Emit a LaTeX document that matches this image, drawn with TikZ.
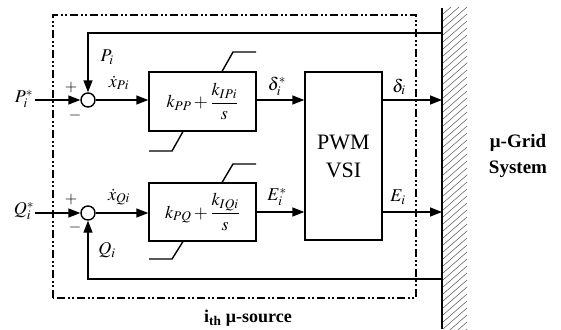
\documentclass[tikz,border=0pt]{standalone}
\usepackage{mathptmx}
\usepackage{fontspec}
\setmainfont{Liberation Serif}
\usetikzlibrary{arrows.meta}
\begin{document}
\begin{tikzpicture}[x=1pt,y=-1pt,
  line width=1.4pt,
  arr/.style={-{Triangle[length=12pt,width=9pt]}},
  blk/.style={draw,rectangle,inner sep=0pt},
  sumc/.style={draw,circle,minimum size=14pt,inner sep=0pt},
  lbl/.style={inner sep=0pt,font=\fontsize{18}{20}\selectfont},
  sgn/.style={inner sep=0pt,font=\fontsize{16}{18}\selectfont},
  bound/.style={line width=2.6pt,dash pattern=on 8pt off 2.8pt on 1.8pt off 2.8pt on 1.8pt off 2.8pt},
  sat/.style={line width=1.4pt}
]
\useasboundingbox (0,0) rectangle (561,329);
\fill[white] (0,0) rectangle (561,329);

% boundary of i-th source
\draw[bound] (53,298) -- (53,15) -- (416,15) -- (416,298) -- cycle;

% wall with hatching
\coordinate (wt) at (442,8);
\coordinate (wb) at (442,329);
\begin{scope}
  \clip (442,8) rectangle (468,329);
  \foreach \k in {0,...,50}{
    \draw[line width=0.5pt,gray!70!black] (443,{14+7*\k}) -- ++(24,-21);
  }
\end{scope}
\draw[line width=1.6pt] (wt) -- (wb);

% summing junctions
\node[sumc] (sp) at (88,100) {};
\node[sumc] (sq) at (88,213) {};

% PI blocks
\node[blk,minimum width=107pt,minimum height=59pt] (bp) at (202.5,101.5)
  {\fontsize{18}{20}\selectfont $\displaystyle k_{PP}+\frac{k_{IPi}}{s}$};
\node[blk,minimum width=107pt,minimum height=58pt] (bq) at (202.5,212)
  {\fontsize{18}{20}\selectfont $\displaystyle k_{PQ}+\frac{k_{IQi}}{s}$};

% saturation limits
\draw[sat] (222,71.5) -- (233,52) -- (256,52);
\draw[sat] (183,131.5) -- (172,151) -- (149,151);
\draw[sat] (222,182.5) -- (233,164) -- (256,164);
\draw[sat] (183,241.5) -- (172,259) -- (149,259);

% PWM VSI
\node[blk,minimum width=77pt,minimum height=168pt,align=center,
  font=\fontsize{22}{28}\selectfont] (pwm) at (343.5,156) {PWM\\VSI};

% inputs
\coordinate (pin) at (35,100);
\coordinate (qin) at (35,213);
\draw[arr] (pin) -- (sp.west);
\draw[arr] (qin) -- (sq.west);
\node[lbl] (plab) at (24,99) {$P_i^{*}$};
\node[lbl] (qlab) at (24,211) {$Q_i^{*}$};

% forward paths
\draw[arr] (sp.east) -- (sp.east -| bp.west);
\draw[arr] (sq.east) -- (sq.east -| bq.west);
\draw[arr] (bp.east |- 0,100) -- (pwm.west |- 0,100);
\draw[arr] (bq.east |- 0,212) -- (pwm.west |- 0,212);
\coordinate (wp) at (442,100);
\coordinate (wq) at (442,212);
\draw[arr] (pwm.east |- wp) -- (wp);
\draw[arr] (pwm.east |- wq) -- (wq);

% feedback
\coordinate (ft) at (442,33);
\coordinate (fb) at (442,279);
\draw[arr] (ft) -- (88,33) -- (sp.north);
\draw[arr] (fb) -- (88,279) -- (sq.south);

% signs
\node[sgn] (pp) at (71,88) {$+$};
\node[sgn] (pm) at (75,115) {$-$};
\node[sgn] (qp) at (71,200) {$+$};
\node[sgn] (qm) at (75,227) {$-$};

% signal labels
\node[lbl] (pil) at (107,57) {$P_i$};
\node[lbl] (qil) at (107,250) {$Q_i$};
\node[lbl] (xp) at (119,83) {$\dot{x}_{Pi}$};
\node[lbl] (xq) at (119,197) {$\dot{x}_{Qi}$};
\node[lbl] (ds) at (277,86) {$\delta_i^{*}$};
\node[lbl] (es) at (277,197) {$E_i^{*}$};
\node[lbl] (d) at (399,87) {$\delta_i$};
\node[lbl] (e) at (398,197) {$E_i$};

% titles
\node[align=center,font=\bfseries\fontsize{19}{26}\selectfont] (grid) at (518,156) {μ-Grid\\System};
\node[font=\bfseries\fontsize{18}{20}\selectfont] (src) at (248,318) {i\textsubscript{th} μ-source};
\end{tikzpicture}
\end{document}
